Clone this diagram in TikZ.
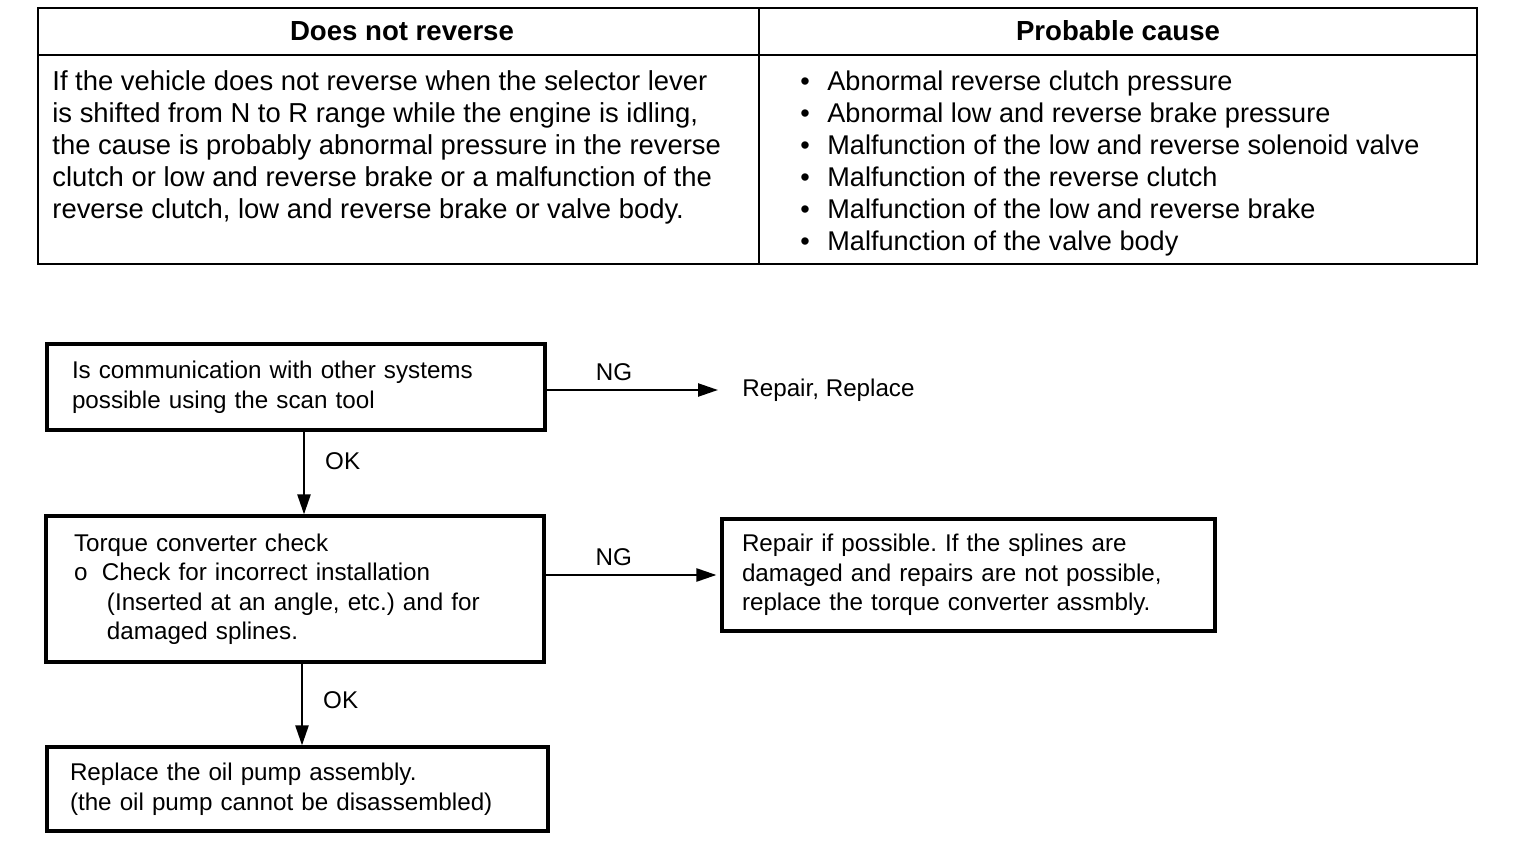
\documentclass[tikz,border=0pt]{standalone}
\usepackage{fontspec}
\setmainfont{Liberation Sans}
\usetikzlibrary{calc,positioning,arrows.meta}
\frenchspacing

\begin{document}
\begin{tikzpicture}[x=0.5pt,y=-0.5pt,
	box/.style={draw,line width=1.6pt,inner ysep=0pt,align=left,font=\fontsize{12.1}{14.75}\selectfont},
	arr/.style={line width=1.2pt,-{Triangle[length=10pt,width=6.5pt]}},
	lab/.style={font=\fontsize{12.1}{14.75}\selectfont,inner sep=2pt}]%%%table + flow chart
\useasboundingbox (0,0) rectangle (1536,860);
%%%table
\coordinate (tl) at (38,8); \coordinate (br) at (1477,264);
\coordinate (hl) at (38,55); \coordinate (hr) at (1477,55);
\coordinate (vt) at (759,8); \coordinate (vb) at (759,264);
\draw[line width=1.2pt] (tl) rectangle (br);
\draw[line width=1.2pt] (hl) -- (hr) (vt) -- (vb);
\node[font=\bfseries\fontsize{13.8}{16}\selectfont] (hsym) at (402,31) {Does not reverse};
\node[font=\bfseries\fontsize{13.8}{16}\selectfont] (hcause) at (1118,31) {Probable cause};
\node[anchor=north west,inner sep=0pt,align=left,font=\fontsize{13.7}{16}\selectfont] (sym) at (52,70)
	{If the vehicle does not reverse when the selector lever\\
	is shifted from N to R range while the engine is idling,\\
	the cause is probably abnormal pressure in the reverse\\
	clutch or low and reverse brake or a malfunction of the\\
	reverse clutch, low and reverse brake or valve body.};
\node[anchor=north west,inner sep=0pt,align=left,font=\fontsize{13.55}{16}\selectfont] (cause) at (800,70)
	{\makebox[13.5pt][l]{\textbullet}Abnormal reverse clutch pressure\\
	\makebox[13.5pt][l]{\textbullet}Abnormal low and reverse brake pressure\\
	\makebox[13.5pt][l]{\textbullet}Malfunction of the low and reverse solenoid valve\\
	\makebox[13.5pt][l]{\textbullet}Malfunction of the reverse clutch\\
	\makebox[13.5pt][l]{\textbullet}Malfunction of the low and reverse brake\\
	\makebox[13.5pt][l]{\textbullet}Malfunction of the valve body};
%%%flow chart
\node[box,minimum width=249pt,minimum height=43pt,inner xsep=12.5pt,text width=224pt] (comm) at (296,387)
	{Is communication with other systems\\possible using the scan tool};
\node[lab,anchor=west,inner sep=4pt] (rr) at (734,390) {Repair, Replace};
\node[box,minimum width=249pt,minimum height=73pt,inner xsep=14pt,text width=221pt] (torque) at (295,589)
	{Torque converter check\\
	\makebox[14pt][l]{o}Check for incorrect installation\\
	\hspace*{16.5pt}(Inserted at an angle, etc.) and for\\
	\hspace*{16.5pt}damaged splines.};
\node[box,minimum width=246.5pt,minimum height=56pt,inner xsep=10pt,text width=226.5pt] (repair) at (968.5,575)
	{Repair if possible. If the splines are\\damaged and repairs are not possible,\\replace the torque converter assmbly.};
\node[box,minimum width=250.5pt,minimum height=42pt,inner xsep=11.5pt,text width=227.5pt] (pump) at (297.5,789)
	{Replace the oil pump assembly.\\(the oil pump cannot be disassembled)};
\coordinate (ok1) at (304,0); \coordinate (ok2) at (302,0);
\draw[arr,shorten >=8pt] (rr.west -| comm.east) -- node[lab,above=2pt,pos=0.36]{NG} (rr.west);
\draw[arr] (comm.south -| ok1) -- node[lab,right=8pt,pos=0.36]{OK} (torque.north -| ok1);
\draw[arr,shorten >=2pt] (repair.west -| torque.east) -- node[lab,above=2pt,pos=0.39]{NG} (repair.west);
\draw[arr] (torque.south -| ok2) -- node[lab,right=8pt,pos=0.45]{OK} (pump.north -| ok2);

\end{tikzpicture}
\end{document}
